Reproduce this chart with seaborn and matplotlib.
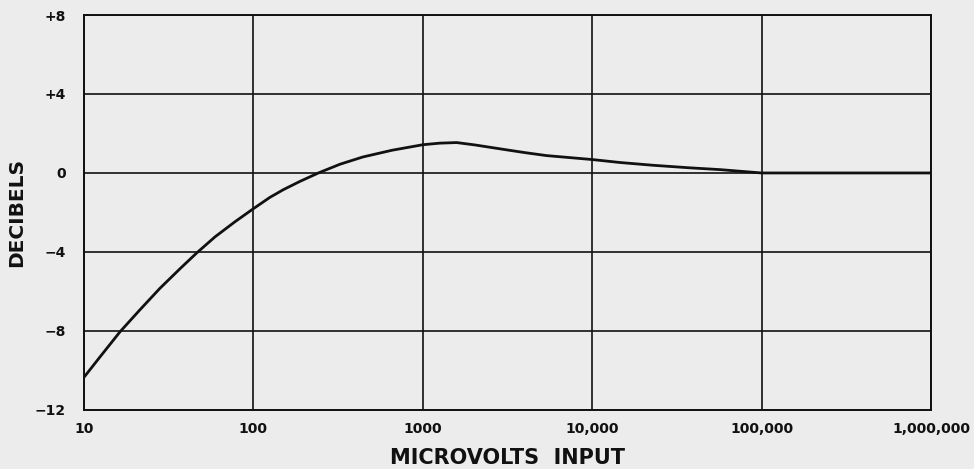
import matplotlib
matplotlib.use("Agg")
import numpy as np
import pandas as pd
import seaborn as sns
from matplotlib import pyplot as plt
from matplotlib.ticker import FixedLocator, FixedFormatter, NullLocator

# values
microvolts = [10, 12.4, 16.3, 21.4, 28.1, 36.9, 46.3, 59.3, 77.9, 100, 125, 150,
              188, 242, 324, 443, 658, 1000, 1260, 1585, 2030, 2970, 4010, 5380,
              10000, 14600, 22850, 37800, 56800, 100000, 1000000]
decibels = [-10.35, -9.33, -8.05, -6.93, -5.84, -4.85, -4.05, -3.24, -2.47, -1.81,
            -1.24, -0.85, -0.43, 0.0, 0.44, 0.81, 1.15, 1.43, 1.51, 1.54, 1.42,
            1.2, 1.03, 0.88, 0.68, 0.53, 0.39, 0.26, 0.17, 0.0, 0.0]

x_ticks = [10, 100, 1000, 10000, 100000, 1000000]
x_labels = ["10", "100", "1000", "10,000", "100,000", "1,000,000"]
y_ticks = [-12, -8, -4, 0, 4, 8]
y_labels = ["\u221212", "\u22128", "\u22124", "0", "+4", "+8"]

df = pd.DataFrame({"microvolts": microvolts, "decibels": decibels})

sns.set_style("white")
plt.rcParams["font.family"] = ["DejaVu Sans"]
plt.rcParams["font.weight"] = "bold"

bg = "#ececec"
fig = plt.figure(figsize=(9.74, 4.69), dpi=100, facecolor=bg)
ax = fig.add_axes([0.0862, 0.126, 0.8696, 0.842])
ax.set_facecolor(bg)

sns.lineplot(data=df, x="microvolts", y="decibels", ax=ax, color="#111111",
             linewidth=2.0, zorder=3)

ax.set_xscale("log")
ax.set_xlim(10, 1000000)
ax.set_ylim(-12, 8)

ax.xaxis.set_major_locator(FixedLocator(x_ticks))
ax.xaxis.set_major_formatter(FixedFormatter(x_labels))
ax.xaxis.set_minor_locator(NullLocator())
ax.yaxis.set_major_locator(FixedLocator(y_ticks))
ax.yaxis.set_major_formatter(FixedFormatter(y_labels))

ax.grid(True, color="#111111", linewidth=1.2)
ax.tick_params(axis="both", length=0, labelsize=10, colors="#111111")
ax.tick_params(axis="x", pad=9)
ax.tick_params(axis="y", pad=13)
for lab in ax.get_xticklabels() + ax.get_yticklabels():
    lab.set_fontweight("bold")

for s in ax.spines.values():
    s.set_visible(True)
    s.set_color("#111111")
    s.set_linewidth(1.4)

ax.set_xlabel("MICROVOLTS  INPUT", fontsize=15, fontweight="bold", color="#111111",
              labelpad=8)
ax.set_ylabel("DECIBELS", fontsize=14.5, fontweight="bold", color="#111111",
              labelpad=6)

fig.savefig("out.png", dpi=100, facecolor=bg)
